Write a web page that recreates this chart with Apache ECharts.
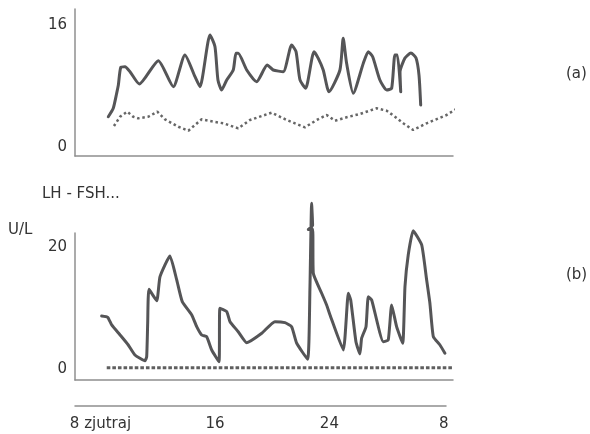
<!DOCTYPE html>
<html>
<head>
<meta charset="utf-8">
<script src="https://cdn.jsdelivr.net/npm/echarts@6/dist/echarts.min.js"></script>
<style>
  html, body { margin: 0; padding: 0; background: #fff; }
  #chart { width: 590px; height: 434px; }
</style>
</head>
<body>
<div id="chart"></div>
<script>
// (a) puna crta - ure in vrednosti
var aSolidHours = [8.35, 8.70, 8.94, 9.06, 9.23, 9.53, 9.88, 10.54, 11.88, 12.94, 13.76, 14.47, 14.82, 15.53, 15.88, 16.09, 16.35, 16.71, 17.17, 17.36, 17.52, 18.12, 18.82, 19.57, 19.99, 20.70, 21.29, 21.60, 21.88, 22.28, 22.87, 23.17, 23.52, 23.93, 24.70, 24.93, 25.17, 25.64, 26.35, 26.70, 27.01, 27.52, 28.00, 28.35, 28.58, 28.75, 28.99, 28.94, 29.29, 29.71, 30.07, 30.28, 30.40];
var aSolidValues = [3.97, 5.08, 7.04, 8.13, 10.45, 10.53, 9.88, 8.26, 11.32, 7.91, 12.07, 9.22, 7.91, 14.69, 13.15, 8.79, 7.48, 8.79, 10.10, 12.29, 12.29, 10.10, 8.56, 10.75, 10.10, 9.88, 13.38, 12.50, 8.79, 7.70, 12.50, 11.63, 10.10, 7.25, 10.10, 14.26, 10.98, 7.04, 10.98, 12.50, 11.84, 8.79, 7.48, 7.70, 12.07, 12.07, 7.25, 9.84, 11.67, 12.33, 11.67, 9.44, 5.51];

// (a) pikčasta crta
var aDottedHours = [8.75, 9.18, 9.69, 10.11, 10.47, 11.17, 11.81, 12.35, 13.29, 14.00, 14.47, 14.94, 15.76, 16.47, 17.52, 18.35, 19.88, 20.94, 22.23, 23.06, 23.76, 24.35, 25.17, 26.11, 27.29, 28.00, 28.58, 29.17, 29.87, 30.82, 32.23, 33.24];
var aDottedValues = [2.75, 3.97, 4.63, 3.97, 3.76, 3.97, 4.63, 3.63, 2.66, 2.14, 2.89, 3.63, 3.32, 3.11, 2.45, 3.54, 4.50, 3.54, 2.58, 3.54, 4.20, 3.45, 3.90, 4.33, 5.08, 4.76, 3.97, 3.11, 2.23, 3.11, 4.20, 5.38];

// (b) LH
var bSolidHours = [7.88, 8.31, 8.59, 9.18, 9.76, 10.23, 10.94, 11.06, 11.13, 11.22, 11.77, 12.00, 12.70, 13.18, 13.57, 14.24, 14.59, 14.94, 15.29, 15.65, 16.16, 16.23, 16.71, 16.94, 17.52, 18.12, 19.18, 20.11, 20.82, 21.29, 21.65, 22.42, 22.58, 22.70, 22.77, 22.47, 22.77, 22.82, 23.41, 23.76, 24.00, 24.94, 25.29, 25.46, 25.83, 26.11, 26.23, 26.54, 26.70, 26.94, 27.76, 28.11, 28.35, 28.70, 29.13, 29.29, 29.52, 29.87, 30.47, 30.82, 31.05, 31.29, 31.76, 32.11];
var bSolidValues = [8.70, 8.48, 7.23, 5.60, 3.96, 2.33, 1.40, 2.06, 7.50, 13.05, 11.19, 15.11, 18.48, 14.57, 11.03, 8.86, 6.95, 5.60, 5.32, 3.15, 1.24, 9.95, 9.40, 7.77, 6.13, 4.34, 5.87, 7.77, 7.60, 6.95, 4.24, 1.63, 12.94, 27.08, 23.50, 22.80, 22.90, 15.66, 12.40, 10.49, 8.86, 3.15, 12.40, 11.31, 4.50, 2.50, 5.06, 6.95, 11.84, 11.31, 4.50, 4.78, 10.49, 6.95, 4.24, 13.47, 18.65, 22.61, 20.28, 14.57, 10.77, 5.32, 3.96, 2.61];

// (b) FSH
var bDottedHours = [8.24, 32.65];
var bDottedValues = [0.25, 0.25];

var xTickHours = [8, 16, 24, 32];
var xTickLabels = ['8 zjutraj', '16', '24', '8'];
var aTickValues = [0, 16];
var bTickValues = [0, 20];

function pairs(xs, ys) {
  return xs.map(function (x, i) { return [x, ys[i]]; });
}

var font = 'DejaVu Sans';
var axisGrey = '#8f8f8f';
var lineGrey = '#555557';

var myChart = echarts.init(document.getElementById('chart'));

function panelX(gridIndex) {
  return {
    type: 'value', gridIndex: gridIndex, min: 6, max: 32.68,
    axisLine: { show: true, onZero: false, lineStyle: { color: axisGrey, width: 1.5 } },
    axisTick: { show: false }, axisLabel: { show: false }, splitLine: { show: false }
  };
}
function panelY(gridIndex, min, max, ticks) {
  return {
    type: 'value', gridIndex: gridIndex, min: min, max: max,
    axisLine: { show: true, onZero: false, lineStyle: { color: axisGrey, width: 1.5 } },
    axisTick: { show: false }, splitLine: { show: false },
    axisLabel: { customValues: ticks, margin: 8, color: '#333', fontFamily: font, fontSize: 15 }
  };
}

var option = {
  animation: false,
  title: [
    { text: 'LH - FSH...', left: 42, top: 187, padding: 0, textStyle: { fontFamily: font, fontSize: 15, fontWeight: 'normal', color: '#333' } },
    { text: 'U/L', left: 8, top: 223, padding: 0, textStyle: { fontFamily: font, fontSize: 15, fontWeight: 'normal', color: '#333' } },
    { text: '(a)', left: 566, top: 67, padding: 0, textStyle: { fontFamily: font, fontSize: 15, fontWeight: 'normal', color: '#333' } },
    { text: '(b)', left: 566, top: 268, padding: 0, textStyle: { fontFamily: font, fontSize: 15, fontWeight: 'normal', color: '#333' } }
  ],
  grid: [
    { left: 75, right: 137, top: 9, height: 147 },
    { left: 75, right: 137, top: 233, height: 147 },
    { left: 75, right: 144, top: 405, height: 1 }
  ],
  xAxis: [
    panelX(0),
    panelX(1),
    {
      type: 'value', gridIndex: 2, min: 6.22, max: 32.15,
      axisLine: { show: true, onZero: false, lineStyle: { color: axisGrey, width: 1.5 } },
      axisTick: { show: false }, splitLine: { show: false },
      axisLabel: {
        customValues: xTickHours, margin: 11, color: '#333', fontFamily: font, fontSize: 15,
        formatter: function (v) { return xTickLabels[xTickHours.indexOf(v)]; }
      }
    }
  ],
  yAxis: [
    panelY(0, -1.18, 18.1, aTickValues),
    panelY(1, -1.75, 22.23, bTickValues),
    { type: 'value', gridIndex: 2, show: false }
  ],
  series: [
    {
      type: 'line', xAxisIndex: 0, yAxisIndex: 0, clip: false, showSymbol: false, smooth: 0.2,
      data: pairs(aSolidHours, aSolidValues),
      lineStyle: { color: lineGrey, width: 3, cap: 'round', join: 'round' }
    },
    {
      type: 'line', xAxisIndex: 0, yAxisIndex: 0, clip: false, showSymbol: false,
      data: pairs(aDottedHours, aDottedValues),
      lineStyle: { color: '#666', width: 2.5, type: [2.5, 2.8] }
    },
    {
      type: 'line', xAxisIndex: 1, yAxisIndex: 1, clip: false, showSymbol: false, smooth: 0.15,
      data: pairs(bSolidHours, bSolidValues),
      lineStyle: { color: lineGrey, width: 3, cap: 'round', join: 'round' }
    },
    {
      type: 'line', xAxisIndex: 1, yAxisIndex: 1, clip: false, showSymbol: false,
      data: pairs(bDottedHours, bDottedValues),
      lineStyle: { color: '#5f5f5f', width: 3, type: [3.6, 2] }
    }
  ]
};
myChart.setOption(option);
</script>
</body>
</html>
